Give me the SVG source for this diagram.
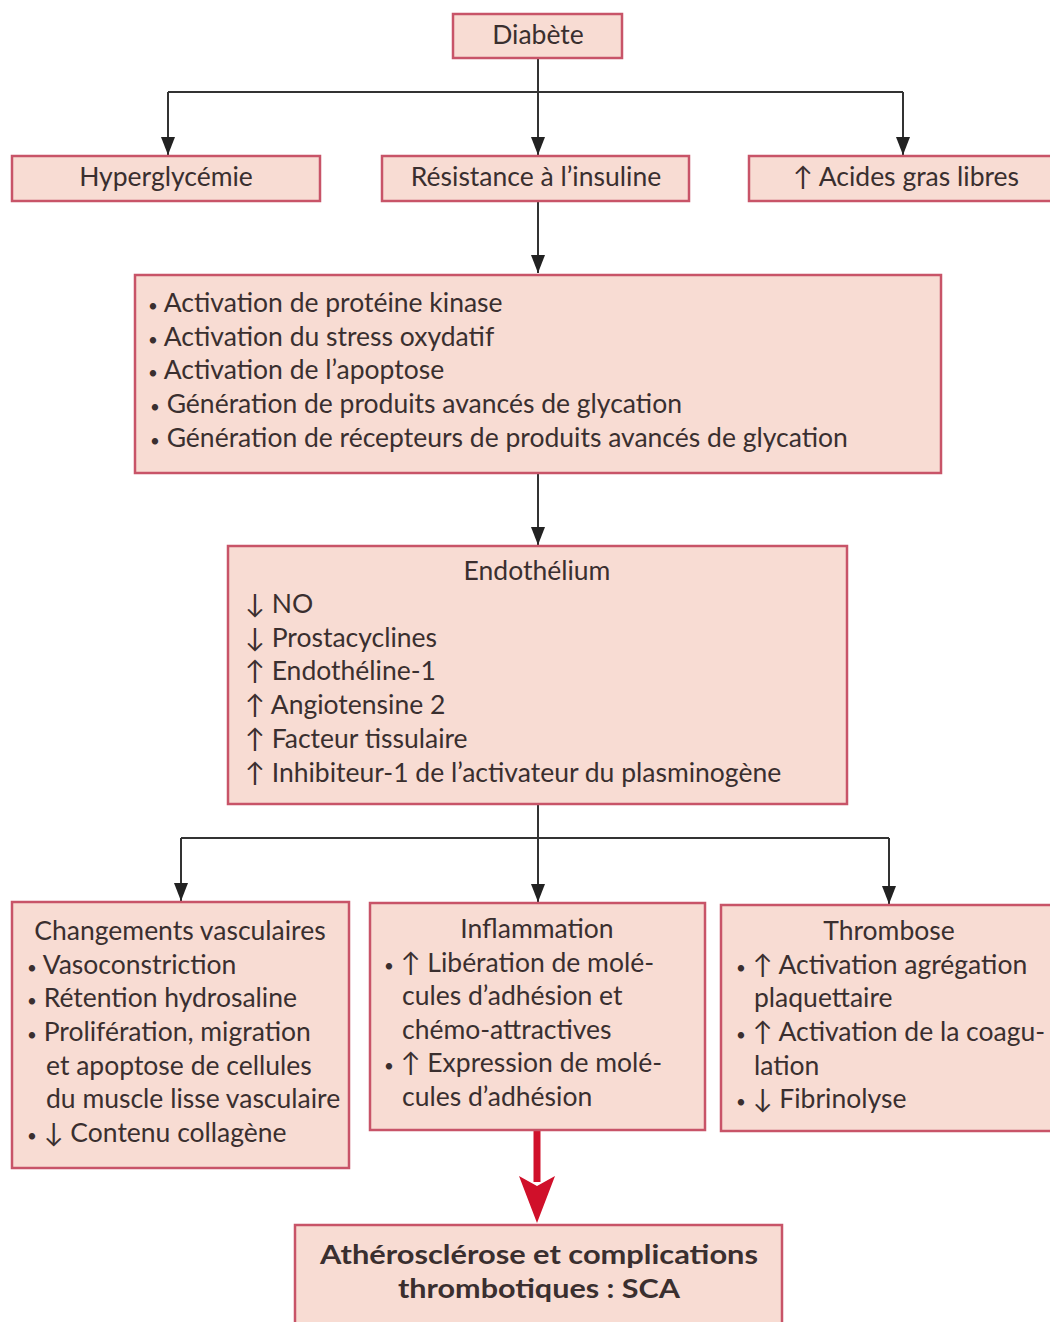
<svg xmlns="http://www.w3.org/2000/svg" width="1050" height="1322" viewBox="0 0 1050 1322">
<defs>
<style>
.box{fill:#f8dcd3;stroke:#c85468;stroke-width:2.5}
.t{font-family:Lato,"Liberation Sans",sans-serif;font-size:26.5px;fill:#3a2f2f}
.c{text-anchor:middle}
.b{font-weight:bold}
.bu{font-size:17px}
.ln{fill:none;stroke:#333;stroke-width:2}
</style>
<marker id="ah" viewBox="0 0 18 14" refX="18" refY="7" markerWidth="18" markerHeight="14" markerUnits="userSpaceOnUse" orient="auto">
<path d="M0,0 L18,7 L0,14 z" fill="#222"/>
</marker>
</defs>
<rect width="1050" height="1322" fill="#ffffff"/>
<g id="connectors">
<path class="ln" d="M538,58 V92"/>
<path class="ln" d="M168,92 H903"/>
<path class="ln" d="M168,92 V155" marker-end="url(#ah)"/>
<path class="ln" d="M538,92 V155" marker-end="url(#ah)"/>
<path class="ln" d="M903,92 V155" marker-end="url(#ah)"/>
<path class="ln" d="M538,201 V273" marker-end="url(#ah)"/>
<path class="ln" d="M538,473 V545" marker-end="url(#ah)"/>
<path class="ln" d="M538,804 V838"/>
<path class="ln" d="M181,838 H889"/>
<path class="ln" d="M181,838 V901" marker-end="url(#ah)"/>
<path class="ln" d="M538,838 V902" marker-end="url(#ah)"/>
<path class="ln" d="M889,838 V904" marker-end="url(#ah)"/>
<path d="M537,1130 V1182" stroke="#d0102a" stroke-width="7" fill="none"/>
<path d="M519,1176 L537,1186 L555,1176 L537,1223 z" fill="#d0102a"/>
</g>
<g id="diabete">
<rect class="box" x="453" y="14" width="169" height="44"/>
<text class="t c" x="538" y="44">Diabète</text>
</g>
<g id="hyperglycemie">
<rect class="box" x="12" y="156" width="308" height="45"/>
<text class="t c" x="166" y="186">Hyperglycémie</text>
</g>
<g id="resistance">
<rect class="box" x="382" y="156" width="307" height="45"/>
<text class="t c" x="536" y="186">Résistance à l’insuline</text>
</g>
<g id="acides">
<rect class="box" x="749" y="156" width="305" height="45"/>
<text class="t c" x="906" y="186">↑ Acides gras libres</text>
</g>
<g id="activation">
<rect class="box" x="135" y="275" width="806" height="198"/>
<text class="t" x="148" y="312"><tspan class="bu">•</tspan> Activation de protéine kinase</text>
<text class="t" x="148" y="346"><tspan class="bu">•</tspan> Activation du stress oxydatif</text>
<text class="t" x="148" y="379"><tspan class="bu">•</tspan> Activation de l’apoptose</text>
<text class="t" x="150" y="413"><tspan class="bu">•</tspan>  Génération de produits avancés de glycation</text>
<text class="t" x="150" y="447"><tspan class="bu">•</tspan>  Génération de récepteurs de produits avancés de glycation</text>
</g>
<g id="endothelium">
<rect class="box" x="228" y="546" width="619" height="258"/>
<text class="t c" x="537" y="580">Endothélium</text>
<text class="t" x="245" y="613">↓ NO</text>
<text class="t" x="245" y="647">↓ Prostacyclines</text>
<text class="t" x="245" y="680">↑ Endothéline-1</text>
<text class="t" x="245" y="714">↑ Angiotensine 2</text>
<text class="t" x="245" y="748">↑ Facteur tissulaire</text>
<text class="t" x="245" y="782">↑ Inhibiteur-1 de l’activateur du plasminogène</text>
</g>
<g id="vasculaires">
<rect class="box" x="12" y="902" width="337" height="266"/>
<text class="t c" x="180" y="940">Changements vasculaires</text>
<text class="t" x="27" y="974"><tspan class="bu">•</tspan> Vasoconstriction</text>
<text class="t" x="27" y="1007"><tspan class="bu">•</tspan> Rétention hydrosaline</text>
<text class="t" x="27" y="1041"><tspan class="bu">•</tspan> Prolifération, migration</text>
<text class="t" x="46" y="1075">et apoptose de cellules</text>
<text class="t" x="46" y="1108">du muscle lisse vasculaire</text>
<text class="t" x="27" y="1142"><tspan class="bu">•</tspan> ↓ Contenu collagène</text>
</g>
<g id="inflammation">
<rect class="box" x="370" y="903" width="335" height="227"/>
<text class="t c" x="537" y="938">Inflammation</text>
<text class="t" x="384" y="972"><tspan class="bu">•</tspan> ↑ Libération de molé-</text>
<text class="t" x="402" y="1005">cules d’adhésion et</text>
<text class="t" x="402" y="1039">chémo-attractives</text>
<text class="t" x="384" y="1072"><tspan class="bu">•</tspan> ↑ Expression de molé-</text>
<text class="t" x="402" y="1106">cules d’adhésion</text>
</g>
<g id="thrombose">
<rect class="box" x="721" y="905" width="333" height="226"/>
<text class="t c" x="889" y="940">Thrombose</text>
<text class="t" x="736" y="974"><tspan class="bu">•</tspan> ↑ Activation agrégation</text>
<text class="t" x="754" y="1007">plaquettaire</text>
<text class="t" x="736" y="1041"><tspan class="bu">•</tspan> ↑ Activation de la coagu-</text>
<text class="t" x="754" y="1075">lation</text>
<text class="t" x="736" y="1108"><tspan class="bu">•</tspan> ↓ Fibrinolyse</text>
</g>
<g id="atherosclerose">
<rect class="box" x="295" y="1225" width="487" height="100"/>
<text class="t c b" x="539" y="1264" textLength="438" lengthAdjust="spacingAndGlyphs">Athérosclérose et complications</text>
<text class="t c b" x="539" y="1298" textLength="282" lengthAdjust="spacingAndGlyphs">thrombotiques : SCA</text>
</g>
</svg>
